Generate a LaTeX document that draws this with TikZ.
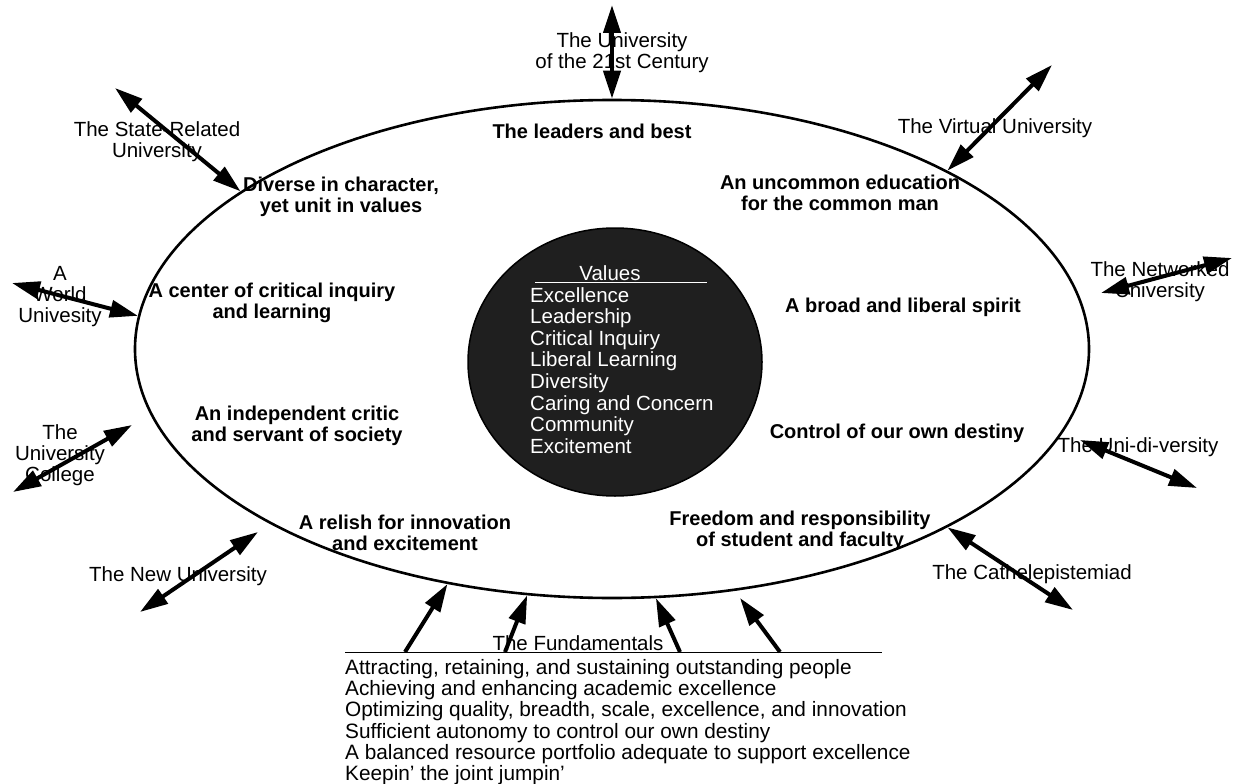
\documentclass[tikz,border=0pt]{standalone}
\usepackage{fontspec}
\setmainfont{Liberation Sans}
\usetikzlibrary{arrows.meta,shapes.geometric}

\begin{document}
\begin{tikzpicture}[x=1pt,y=-1pt,
  lbl/.style={align=center,font=\fontsize{20.5}{21}\selectfont,inner sep=0pt},
  aim/.style={align=center,font=\fontsize{20}{21}\selectfont\bfseries,inner sep=0pt},
  dbl/.style={{Triangle[length=28pt,width=17pt]}-{Triangle[length=28pt,width=17pt]},line width=4pt},
  one/.style={-{Triangle[length=28pt,width=17pt]},line width=4pt}
]
\useasboundingbox (0,0) rectangle (1235,784);

\node[draw,ellipse,line width=2.6pt,fill=white,minimum width=954pt,minimum height=498pt,inner sep=0pt] (ring) at (612,349) {};
\node[ellipse,draw,line width=1.5pt,fill=black!88,minimum width=294pt,minimum height=268pt,inner sep=0pt] (core) at (615,362) {};

\node[lbl,text=white] (vhead) at (610,273) {Values};
\coordinate (vl) at (535,282);
\coordinate (vr) at (707,282);
\draw[white,thin] (vl) -- (vr);
\node[lbl,text=white,align=left,anchor=north west,font=\fontsize{20.5}{21.6}\selectfont] (vals) at (530,287)
  {Excellence\\Leadership\\Critical Inquiry\\Liberal Learning\\Diversity\\Caring and Concern\\Community\\Excitement};

\node[aim] (best) at (592,131) {The leaders and best};
\node[aim] (common) at (840,193) {An uncommon education\\for the common man};
\node[aim] (diverse) at (341,197) {Diverse in character,\\yet unit in values};
\node[aim] (inquiry) at (272,303) {A center of critical inquiry\\and learning};
\node[aim] (liberal) at (903,307) {A broad and liberal spirit};
\node[aim] (critic) at (297,426) {An independent critic\\and servant of society};
\node[aim] (destiny) at (897,433) {Control of our own destiny};
\node[aim] (relish) at (405,533) {A relish for innovation\\and excitement};
\node[aim] (freedom) at (800,531) {Freedom and responsibility\\of student and faculty};

\node[lbl] (c21) at (622,53) {The University\\of the 21st Century};
\node[lbl] (state) at (157,142) {The State-Related\\University};
\node[lbl] (virtual) at (995,128) {The Virtual University};
\node[lbl] (network) at (1160,282) {The Networked\\University};
\node[lbl] (world) at (60,297) {A\\World\\Univesity};
\node[lbl] (college) at (60,455) {The\\University\\College};
\node[lbl] (unidi) at (1138,447) {The Uni-di-versity};
\node[lbl] (cathe) at (1032,574) {The Cathelepistemiad};
\node[lbl] (newu) at (178,576) {The New University};

\coordinate (c21o) at (612,5);
\coordinate (stateo) at (115,88);
\coordinate (virtualo) at (1052,65);
\coordinate (networko) at (1232,258);
\coordinate (networki) at (1101,293);
\coordinate (worldo) at (12,283);
\coordinate (collegeo) at (13,492);
\coordinate (collegei) at (132,425);
\coordinate (unidii) at (1080,440);
\coordinate (unidio) at (1197,488);
\coordinate (catheo) at (1073,610);
\coordinate (newo) at (140,612);
\coordinate (newi) at (258,532);

\draw[dbl] (c21o) -- (ring.90);
\draw[dbl] (stateo) -- (ring.157);
\draw[dbl] (virtualo) -- (ring.28);
\draw[dbl] (networko) -- (networki);
\draw[dbl] (worldo) -- (ring.176);
\draw[dbl] (collegei) -- (collegeo);
\draw[dbl] (unidii) -- (unidio);
\draw[dbl] (ring.-28) -- (catheo);
\draw[dbl] (newi) -- (newo);

\coordinate (fl) at (345,652);
\coordinate (fr) at (882,652);
\draw[line width=1pt] (fl) -- (fr);
\node[lbl,anchor=south] (fund) at (578,651) {The Fundamentals};
\node[lbl,align=left,anchor=north west,font=\fontsize{20.8}{21.3}\selectfont] (fundlist) at (345,659)
  {Attracting, retaining, and sustaining outstanding people\\
   Achieving and enhancing academic excellence\\
   Optimizing quality, breadth, scale, excellence, and innovation\\
   Sufficient autonomy to control our own destiny\\
   A balanced resource portfolio adequate to support excellence\\
   Keepin' the joint jumpin'};

\coordinate (f1) at (405,652);
\coordinate (f2) at (505,652);
\coordinate (f3) at (680,652);
\coordinate (f4) at (780,652);
\coordinate (f4i) at (740,598);
\draw[one] (f1) -- (ring.235);
\draw[one] (f2) -- (ring.251);
\draw[one] (f3) -- (ring.280);
\draw[one] (f4) -- (f4i);
\end{tikzpicture}
\end{document}
